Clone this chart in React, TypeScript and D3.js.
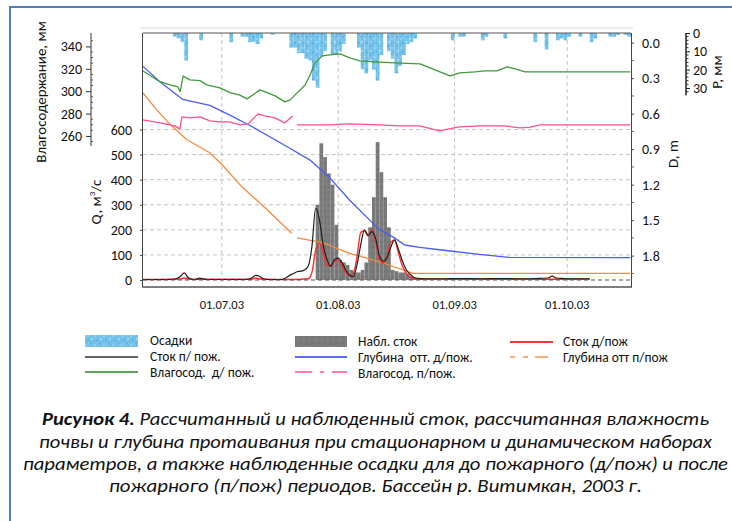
import { useEffect, useRef } from "react";
import * as d3 from "d3";

type Pt = [number, number | null];

// day offsets are counted from 10.06.2003
const START = Date.UTC(2003, 5, 10);
const END = Date.UTC(2003, 9, 18);

const monthTicks = [21, 52, 83, 113];
const monthLabels = ["01.07.03", "01.08.03", "01.09.03", "01.10.03"];

// daily precipitation, mm
const precip: [number, number][] = [
  [8, 2], [9, 3], [10, 5], [11, 15], [15, 4], [23, 5], [26, 2], [27, 2], [28, 5], [29, 5],
  [30, 6], [31, 3], [34, 1], [39, 8], [40, 8], [41, 11], [42, 11], [43, 14], [44, 15],
  [45, 26], [46, 30], [47, 13], [48, 10], [50, 12], [51, 12], [52, 10], [53, 6],
  [57, 8], [58, 20], [59, 22], [60, 15], [61, 20], [62, 26], [63, 12], [65, 10], [66, 14],
  [67, 22], [68, 18], [69, 12], [70, 6], [71, 5], [72, 3], [82, 4], [84, 2], [85, 2],
  [90, 4], [91, 2], [96, 3], [104, 5], [107, 9], [110, 4], [111, 3], [112, 4], [113, 2],
  [116, 2], [119, 5], [120, 3], [124, 2], [125, 2], [126, 1], [128, 1], [129, 2],
];

// observed runoff, m3/s
const flowObs: [number, number][] = [
  [46, 300], [47, 545], [48, 490], [49, 425], [50, 380], [51, 220], [52, 80], [53, 70],
  [54, 60], [55, 40], [56, 30], [57, 30], [58, 40], [59, 70], [60, 210], [61, 330],
  [62, 550], [63, 430], [64, 330], [65, 210], [66, 40], [67, 35], [68, 30], [69, 30],
  [70, 25], [71, 15], [72, 8],
];

// calculated runoff after fire (black)
const flowAfter: Pt[] = [
  [0, 2], [5, 2], [8, 3], [9, 6], [10, 15], [11, 28], [12, 10], [13, 3], [14, 2], [15, 7],
  [16, 5], [17, 2], [20, 2], [25, 2], [28, 3], [29, 8], [30, 18], [31, 15], [32, 5], [33, 2],
  [37, 2], [38, 8], [39, 18], [40, 25], [41, 33], [42, 35], [43, 40], [44, 55], [45, 133],
  [46, 287], [47, 240], [48, 140], [49, 82], [50, 55], [51, 80], [52, 87], [53, 70],
  [54, 40], [55, 20], [56, 13], [57, 60], [58, 140], [59, 200], [60, 178], [61, 193],
  [62, 165], [63, 95], [64, 75], [65, 90], [66, 130], [67, 160], [68, 125], [69, 80],
  [70, 45], [71, 25], [72, 12], [73, 7], [75, 5], [80, 5], [85, 6], [90, 5], [95, 6],
  [100, 5], [105, 6], [108, 8], [109, 15], [110, 8], [112, 6], [115, 5], [119, 5],
];

// calculated runoff before fire (red)
const flowBefore: Pt[] = [
  [0, 2], [10, 4], [11, 8], [12, 4], [15, 3], [29, 3], [30, 8], [31, 4], [40, 2], [44, 5],
  [45, 30], [46, 120], [47, 147], [48, 110], [49, 60], [50, 55], [51, 75], [52, 80],
  [53, 55], [54, 30], [55, 18], [56, 25], [57, 90], [58, 190], [59, 195], [60, 175],
  [61, 200], [62, 150], [63, 85], [64, 68], [65, 95], [66, 150], [67, 160], [68, 110],
  [69, 60], [70, 30], [71, 12], [72, 5], [75, 3], [119, 3],
];

// thaw depth, m
const depthBefore: Pt[] = [
  [0, 0.2], [4.5, 0.33], [10.6, 0.48], [17.8, 0.53], [23, 0.61], [28.5, 0.7], [39, 0.89],
  [44.4, 0.99], [49.7, 1.14], [55, 1.33], [60.4, 1.5], [63, 1.58], [67, 1.65], [69.7, 1.71],
  [73.7, 1.73], [79, 1.75], [89.6, 1.79], [97.6, 1.814], [129.8, 1.816],
];
const depthAfter: Pt[] = [
  [0, 0.425], [3.7, 0.57], [7.2, 0.69], [11.7, 0.82], [17.8, 0.93], [21, 1.03], [25.8, 1.2],
  [33, 1.41], [39.6, 1.61], [40.3, null], [41, 1.65], [47.9, 1.69], [55, 1.78], [63.8, 1.86],
  [71.8, 1.95], [129.8, 1.95],
];

// soil moisture, mm
const moistBefore: Pt[] = [
  [0, 318.1], [4.5, 308.5], [7.2, 305.6], [9.3, 303.8], [9.9, 299.6], [10.7, 313.6],
  [12.5, 310.1], [15.2, 309.4], [17, 305.6], [20.5, 302.9], [23.2, 298.7], [25.8, 296.5],
  [27.7, 293.1], [31.2, 301.2], [35.2, 295.8], [37.8, 290.4], [39.2, 292.2], [40.5, 296.7],
  [43.2, 305.6], [44.5, 314.5], [45.8, 325.3], [47.7, 331.5], [49.8, 332.4], [52.5, 333.3],
  [55.1, 329.7], [57.8, 327.1], [61.8, 326.2], [67.1, 325.3], [73.8, 324.4], [79.1, 317.2],
  [81.8, 313.6], [84.4, 316.3], [88.4, 317.2], [91.1, 318.1], [94.3, 318.1], [97, 321.7],
  [99.1, 319.9], [101.8, 317.2], [129.8, 317.2],
];
const moistAfter: Pt[] = [
  [0, 274.4], [4.5, 271.7], [8.5, 269], [9.8, 266.3], [10.4, 277], [12.5, 276.2], [15.2, 277],
  [17.8, 273.5], [20.5, 272.6], [23.1, 272.6], [25.8, 269.9], [28, 270.8], [30.6, 279.7],
  [32.4, 277.9], [35.1, 276.2], [37.8, 271.7], [39.9, 277.9], [40.4, null], [41, 269.9],
  [49.7, 269.9], [55, 270.8], [63, 269.9], [68.4, 269], [73.7, 269], [79, 264.6],
  [81.6, 266.3], [84.3, 268.1], [89.6, 269], [96.3, 269], [100.3, 267.2], [102.9, 267.6],
  [105.6, 269.9], [129.8, 269.9],
];

const qTicks = [0, 100, 200, 300, 400, 500, 600];
const mTicks = [260, 280, 300, 320, 340];
const dTicks = [0, 0.3, 0.6, 0.9, 1.2, 1.5, 1.8];
const pTicks = [0, 10, 20, 30];

const captionLines = [
  "почвы и глубина протаивания при стационарном и динамическом наборах",
  "параметров, а также наблюденные осадки для до пожарного (д/пож) и после",
  "пожарного (п/пож) периодов. Бассейн р. Витимкан, 2003 г.",
];

const FONT = "Carlito, 'Open Sans', sans-serif";

const App = () => {
  const svgRef = useRef<SVGSVGElement>(null);

  useEffect(() => {
    const svg = d3.select(svgRef.current);
    svg.selectAll("*").remove();
    svg.attr("font-family", FONT);

    const day = (d: number) => new Date(START + d * 864e5);
    const x = d3.scaleUtc().domain([new Date(START), new Date(END)]).range([143, 631]);
    const yQ = d3.scaleLinear().domain([-28, 985]).range([287, 33]);
    const yM = d3.scaleLinear().domain([125, 352]).range([287, 33]);
    const yD = d3.scaleLinear().domain([-0.082, 2.065]).range([33, 287]);
    const yP = d3.scaleLinear().domain([0, 30]).range([33, 88]);
    const [left, right] = x.range();
    const top = 33, bottom = 287;

    // textures
    const defs = svg.append("defs");
    const pr = defs.append("pattern").attr("id", "rain").attr("patternUnits", "userSpaceOnUse")
      .attr("width", 9).attr("height", 9);
    pr.append("rect").attr("width", 9).attr("height", 9).attr("fill", "#74c1ea");
    [[0, 0, "#5fb6e5"], [4, 2, "#93cff0"], [6, 6, "#58b2e3"], [1, 5, "#a2d6f2"], [7, 1, "#80c7ec"], [3, 7, "#69bbe7"]]
      .forEach(([a, b, c]) => pr.append("rect").attr("x", a).attr("y", b).attr("width", 2).attr("height", 2).attr("fill", c as string));
    const po = defs.append("pattern").attr("id", "obs").attr("patternUnits", "userSpaceOnUse")
      .attr("width", 6).attr("height", 6);
    po.append("rect").attr("width", 6).attr("height", 6).attr("fill", "#7a7a7a");
    [[0, 0, "#737373"], [3, 3, "#828282"], [4, 1, "#767676"]]
      .forEach(([a, b, c]) => po.append("rect").attr("x", a).attr("y", b).attr("width", 2).attr("height", 2).attr("fill", c as string));

    // frame
    svg.append("rect").attr("x", 10).attr("y", 7).attr("width", 760).attr("height", 560)
      .attr("fill", "#fff").attr("stroke", "#4f7fb8").attr("stroke-width", 2);
    svg.append("line").attr("x1", 140).attr("x2", 633).attr("y1", 28).attr("y2", 28)
      .attr("stroke", "#dcdcdc");

    // grid
    const g = svg.append("g");
    g.selectAll(".hg").data(qTicks.filter(q => q > 0)).join("line")
      .attr("x1", left).attr("x2", right).attr("y1", d => yQ(d)).attr("y2", d => yQ(d))
      .attr("stroke", "#c4c4c4").attr("stroke-dasharray", "4,3");
    g.selectAll(".vg").data(monthTicks).join("line")
      .attr("x1", d => x(day(d))).attr("x2", d => x(day(d))).attr("y1", top).attr("y2", bottom)
      .attr("stroke", "#c4c4c4").attr("stroke-dasharray", "4,3");

    // precipitation bars hang from the top
    const bw = (d: number) => x(day(d + 1)) - x(day(d));
    svg.append("g").selectAll("rect").data(precip).join("rect")
      .attr("x", d => x(day(d[0]))).attr("width", d => bw(d[0]))
      .attr("y", yP(0)).attr("height", d => yP(d[1]) - yP(0))
      .attr("fill", "url(#rain)");

    // observed runoff
    svg.append("g").selectAll("rect").data(flowObs).join("rect")
      .attr("x", d => x(day(d[0]))).attr("width", d => bw(d[0]))
      .attr("y", d => yQ(d[1])).attr("height", d => yQ(0) - yQ(d[1]))
      .attr("fill", "url(#obs)");

    const mk = (yy: (v: number) => number, curve: d3.CurveFactory) =>
      d3.line<Pt>().defined(p => p[1] != null).x(p => x(day(p[0]))).y(p => yy(p[1] as number)).curve(curve);

    const series: [Pt[], (v: number) => number, string, number, d3.CurveFactory][] = [
      [depthAfter, yD, "#f58a3c", 1.3, d3.curveLinear],
      [depthBefore, yD, "#4a5cf2", 1.3, d3.curveLinear],
      [moistBefore, yM, "#3f9a3a", 1.3, d3.curveLinear],
      [moistAfter, yM, "#ff4f8e", 1.3, d3.curveLinear],
      [flowBefore, yQ, "#ff2a2a", 1.4, d3.curveMonotoneX],
      [flowAfter, yQ, "#1e1e1e", 1.2, d3.curveMonotoneX],
    ];
    series.forEach(([data, yy, color, w, curve]) => {
      svg.append("path").attr("d", mk(yy, curve)(data)).attr("fill", "none")
        .attr("stroke", color).attr("stroke-width", w).attr("stroke-linejoin", "round");
    });

    // zero line
    svg.append("line").attr("x1", left).attr("x2", right).attr("y1", yQ(0)).attr("y2", yQ(0))
      .attr("stroke", "#555").attr("stroke-width", 1.2).attr("stroke-dasharray", "4,3");

    // plot borders
    svg.append("line").attr("x1", left).attr("x2", right).attr("y1", top).attr("y2", top)
      .attr("stroke", "#555");
    svg.append("line").attr("x1", left - 1).attr("x2", right + 1).attr("y1", bottom).attr("y2", bottom)
      .attr("stroke", "#555").attr("stroke-width", 1.6);

    const TICK = 14;

    // Q axis
    const qa = svg.append("g").attr("transform", `translate(${left},0)`)
      .call(d3.axisLeft(yQ).tickValues(qTicks).tickSize(3).tickPadding(8));
    qa.select(".domain").attr("stroke", "#444").attr("d", `M-0.5,${top}V${bottom}`);
    qa.selectAll("line").attr("stroke", "#444");
    qa.selectAll("text").attr("font-size", TICK).attr("font-family", FONT).attr("fill", "#111");

    // moisture axis
    const ma = svg.append("g").attr("transform", "translate(91,0)")
      .call(d3.axisLeft(yM).tickValues(mTicks).tickSize(5).tickPadding(4));
    ma.select(".domain").attr("stroke", "#333").attr("d", `M0,${yM(352)}V${yM(251)}`);
    ma.selectAll("line").attr("stroke", "#333");
    ma.selectAll("text").attr("font-size", TICK).attr("font-family", FONT).attr("fill", "#111");
    ma.selectAll(".mn").data(d3.range(255, 350, 5).filter(v => v % 20 !== 0)).join("line")
      .attr("x1", 0).attr("x2", 2).attr("y1", d => yM(d)).attr("y2", d => yM(d)).attr("stroke", "#555");

    // depth axis
    const da = svg.append("g").attr("transform", `translate(${right},0)`)
      .call(d3.axisRight(yD).tickValues(dTicks).tickSize(3).tickPadding(8).tickFormat(d3.format(".1f")));
    da.select(".domain").attr("stroke", "#444").attr("d", `M0.5,${top}V${bottom}`);
    da.selectAll("line").attr("stroke", "#444");
    da.selectAll("text").attr("font-size", TICK).attr("font-family", FONT).attr("fill", "#111");
    da.selectAll(".mn").data(d3.range(0.15, 2.0, 0.3)).join("line")
      .attr("x1", 0).attr("x2", 3).attr("y1", d => yD(d)).attr("y2", d => yD(d)).attr("stroke", "#666");

    // precipitation axis
    const pa = svg.append("g").attr("transform", "translate(686,0)")
      .call(d3.axisRight(yP).tickValues(pTicks).tickSize(4).tickPadding(3));
    pa.select(".domain").attr("stroke", "#222").attr("stroke-width", 1.5).attr("d", `M0,${yP(0)}V${yP(34)}`);
    pa.selectAll("line").attr("stroke", "#222");
    pa.selectAll("text").attr("font-size", TICK).attr("font-family", FONT).attr("fill", "#111");
    pa.selectAll(".mn").data(d3.range(2, 34, 2).filter(v => v % 10 !== 0)).join("line")
      .attr("x1", 0).attr("x2", 2.5).attr("y1", d => yP(d)).attr("y2", d => yP(d)).attr("stroke", "#333");

    // date labels
    svg.append("g").selectAll("text").data(monthTicks).join("text")
      .attr("x", d => x(day(d))).attr("y", 309).attr("text-anchor", "middle")
      .attr("font-size", 12.5).attr("fill", "#111").text((_, i) => monthLabels[i]);

    // axis titles
    const title = (tx: number, ty: number, s: string) =>
      svg.append("text").attr("transform", `translate(${tx},${ty}) rotate(-90)`)
        .attr("text-anchor", "middle").attr("font-size", 15).attr("fill", "#111").text(s);
    title(46, 92, "Влагосодержание, мм");
    const qt = svg.append("text").attr("transform", "translate(101,202) rotate(-90)")
      .attr("text-anchor", "middle").attr("font-size", 15).attr("fill", "#111");
    qt.append("tspan").text("Q, м");
    qt.append("tspan").text("3").attr("font-size", 9).attr("dy", -6);
    qt.append("tspan").text("/с").attr("dy", 6);
    title(678, 154, "D, m");
    title(722, 72, "P, мм");

    // legend
    const lg = svg.append("g").attr("font-size", 13.5).attr("fill", "#111");
    const label = (tx: number, ty: number, s: string) =>
      lg.append("text").attr("x", tx).attr("y", ty).attr("dy", "0.35em").style("white-space", "pre").text(s);
    const seg = (x1: number, x2: number, yy: number, c: string, w = 2) =>
      lg.append("line").attr("x1", x1).attr("x2", x2).attr("y1", yy).attr("y2", yy)
        .attr("stroke", c).attr("stroke-width", w);
    lg.append("rect").attr("x", 85).attr("y", 335).attr("width", 53).attr("height", 12).attr("fill", "url(#rain)");
    label(150, 340, "Осадки");
    seg(85, 138, 357, "#666");
    label(150, 356, "Сток п/ пож.");
    seg(85, 138, 372, "#5aa653");
    label(150, 372, "Влагосод.  д/ пож.");
    lg.append("rect").attr("x", 295).attr("y", 336).attr("width", 52).attr("height", 11).attr("fill", "url(#obs)");
    label(358, 341, "Набл. сток");
    seg(295, 347, 357, "#5d6cf5");
    label(358, 357, "Глубина  отт. д/пож.");
    seg(295, 312, 372, "#ff7cae");
    seg(320, 324, 372, "#ff7cae");
    seg(332, 347, 372, "#ff7cae");
    label(358, 373, "Влагосод. п/пож.");
    seg(510, 553, 342, "#ff3434");
    label(563, 341, "Сток д/пож");
    seg(510, 515, 357, "#f8ad7c");
    seg(523, 528, 357, "#f8ad7c");
    seg(535, 548, 357, "#f8ad7c");
    label(563, 357, "Глубина отт п/пож");

    // caption
    const cap = svg.append("g").attr("font-size", 17.5).attr("font-style", "italic").attr("fill", "#111")
      .attr("text-anchor", "middle");
    const l1 = cap.append("text").attr("x", 375.5).attr("y", 425)
      .attr("textLength", 667).attr("lengthAdjust", "spacingAndGlyphs");
    l1.append("tspan").attr("font-weight", "bold").text("Рисунок 4.");
    l1.append("tspan").text(" Рассчитанный и наблюденный сток, рассчитанная влажность");
    const widths = [673, 705, 533];
    const ys = [448, 470, 492];
    captionLines.forEach((s, i) => {
      cap.append("text").attr("x", 375.5).attr("y", ys[i])
        .attr("textLength", widths[i]).attr("lengthAdjust", "spacingAndGlyphs").text(s);
    });
  }, []);

  return (
    <svg ref={svgRef} width={732} height={521} style={{ display: "block", position: "absolute", left: 0, top: 0 }} />
  );
};

export default App;
